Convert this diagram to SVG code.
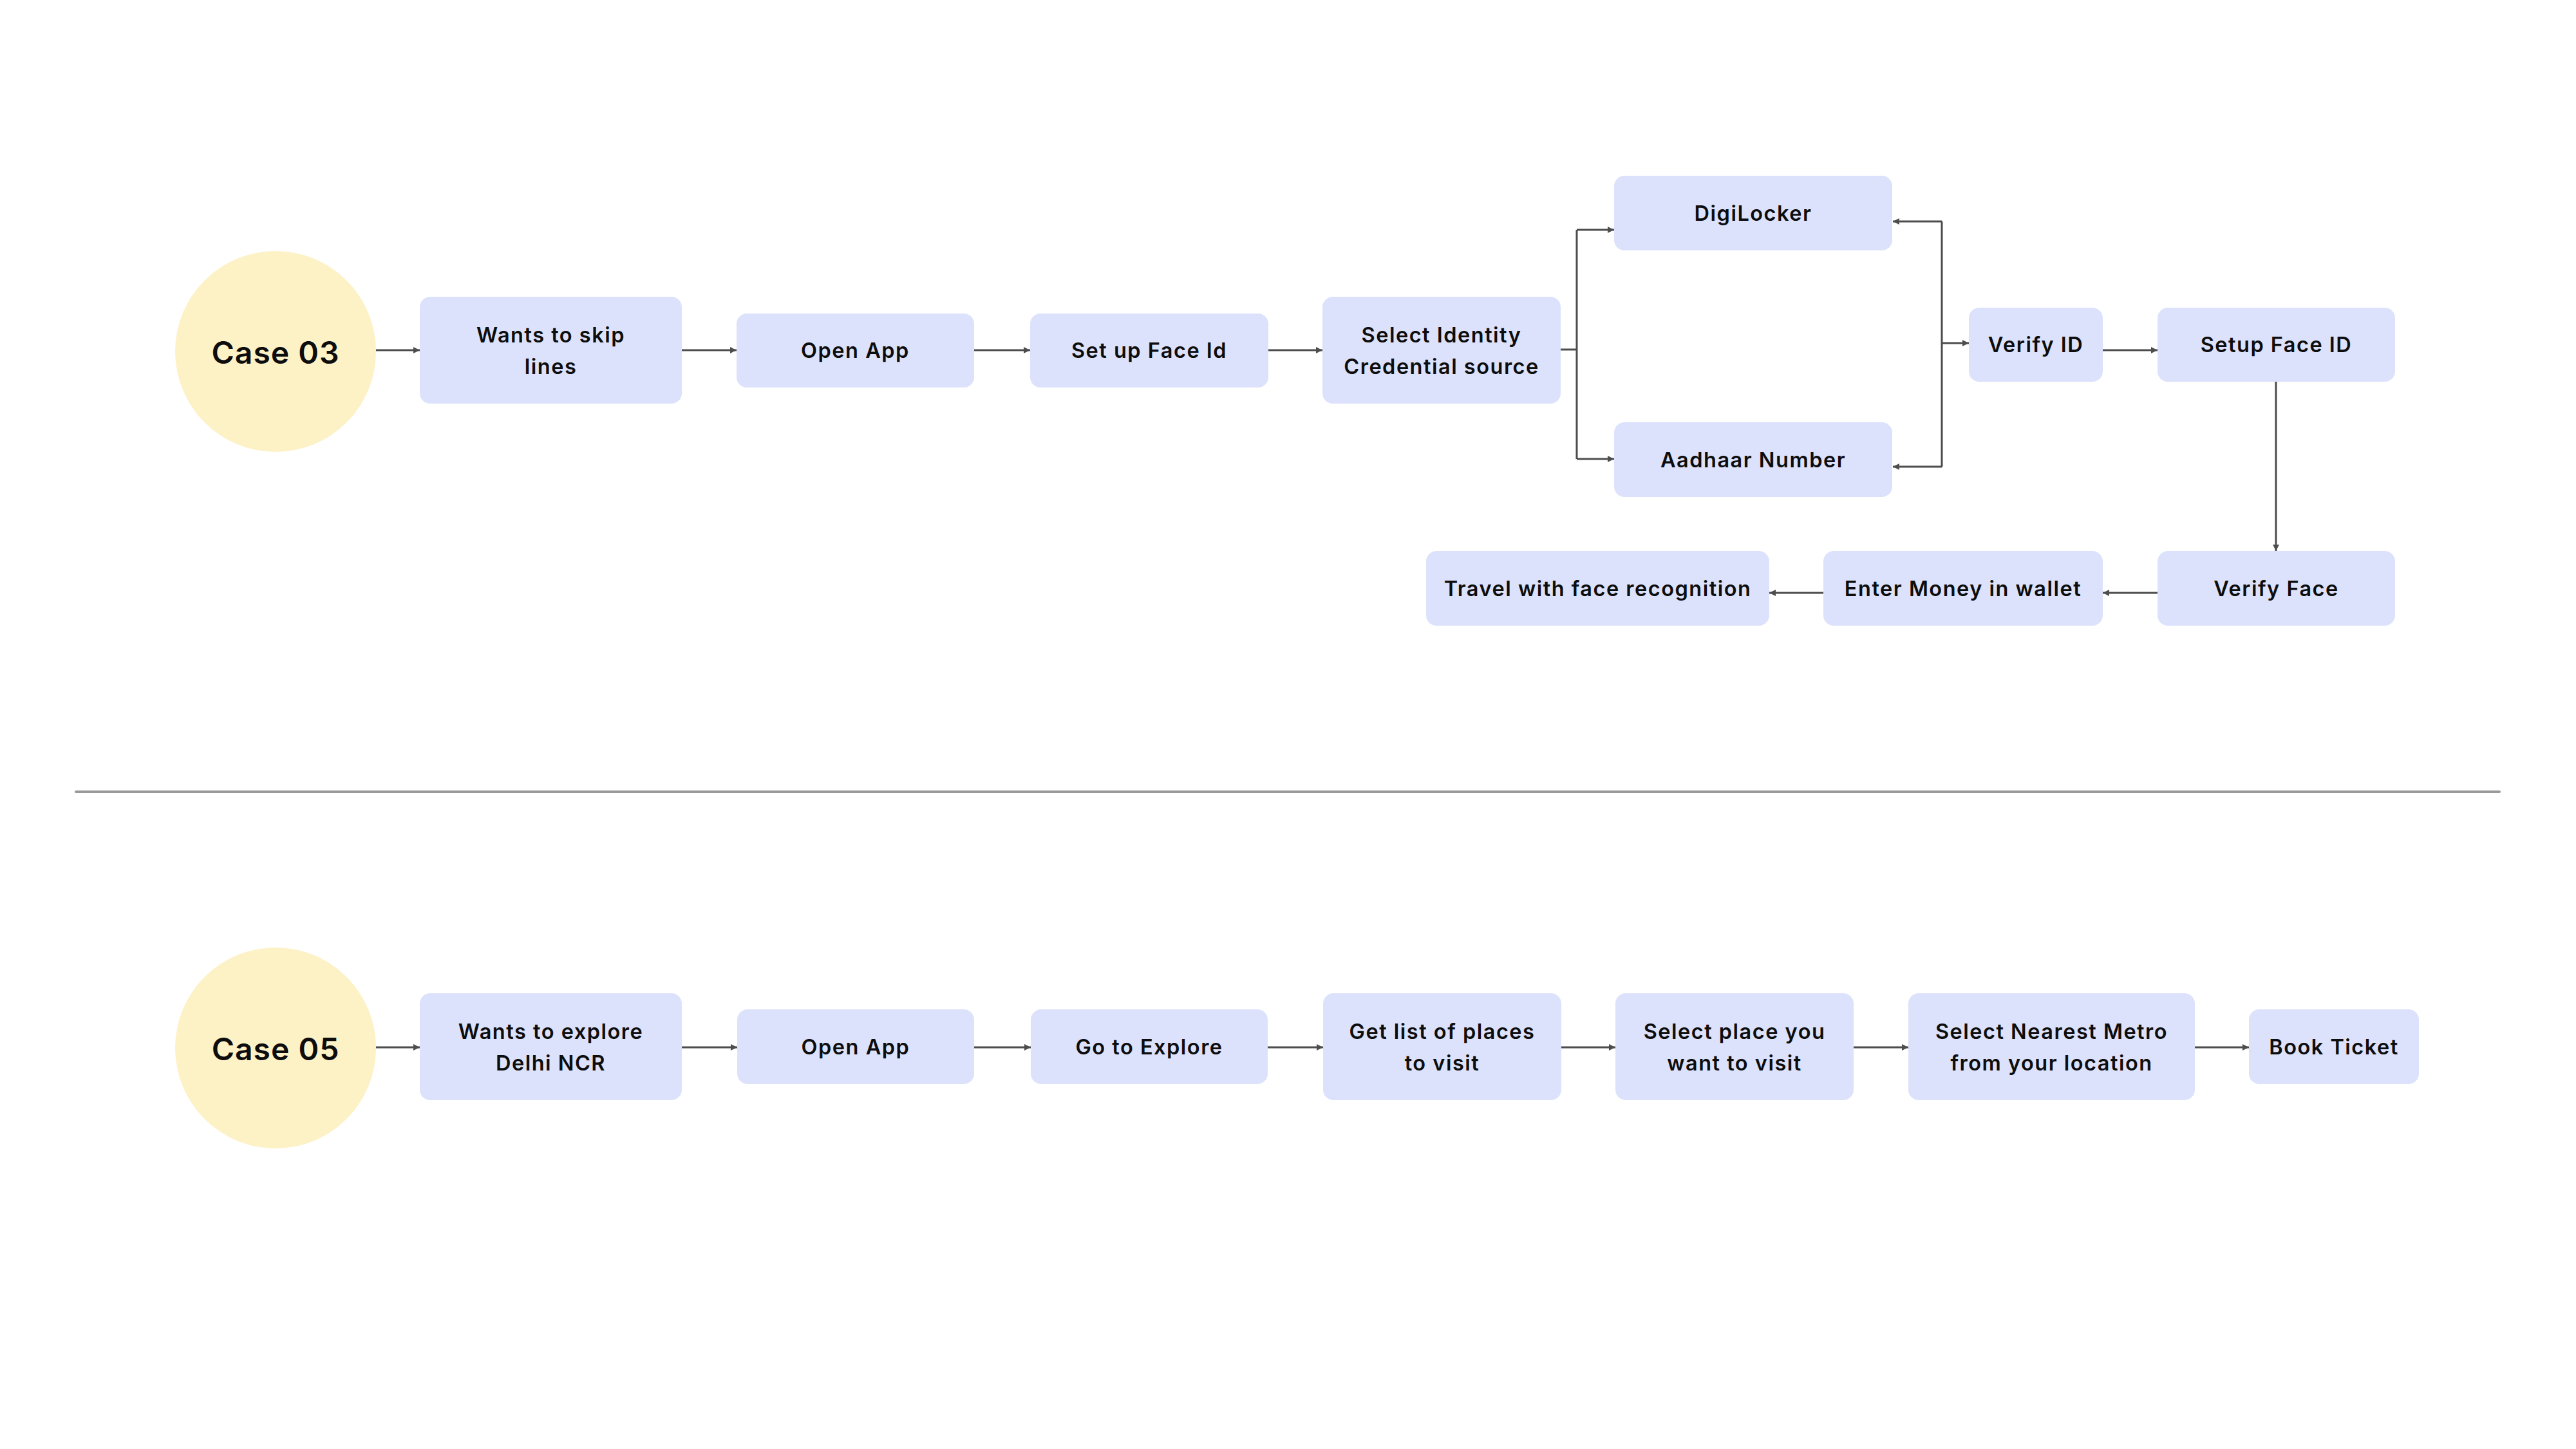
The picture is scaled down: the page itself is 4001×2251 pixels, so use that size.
<svg xmlns="http://www.w3.org/2000/svg" width="4001" height="2251" viewBox="0 0 4001 2251">
<defs>
<style>
.box{fill:#DCE2FC;}
.circ{fill:#FDF1C6;}
.t{font-family:Inter,"Liberation Sans",sans-serif;font-weight:600;font-size:32.5px;letter-spacing:1.5px;fill:#0d0d0d;text-anchor:middle;}
.c{font-family:Inter,"Liberation Sans",sans-serif;font-weight:600;font-size:48px;letter-spacing:1px;fill:#0d0d0d;text-anchor:middle;}
.ln{fill:none;stroke:#4d4d4d;stroke-width:3;}
.ar{fill:none;stroke:#4d4d4d;stroke-width:3;marker-end:url(#ah);}
</style>
<marker id="ah" viewBox="0 0 10 10" refX="10" refY="5" markerWidth="11" markerHeight="10" markerUnits="userSpaceOnUse" orient="auto">
<path d="M0,0 L10,5 L0,10 z" fill="#4d4d4d"/>
</marker>
</defs>
<rect width="4001" height="2251" fill="#ffffff"/>

<g id="connectors">
<path class="ar" d="M584,544 H652"/>
<path class="ar" d="M1059,544 H1144"/>
<path class="ar" d="M1513,544 H1600"/>
<path class="ar" d="M1970,544 H2054"/>
<path class="ln" d="M2424,543 H2449 M2449,357 V713"/>
<path class="ar" d="M2449,357 H2507"/>
<path class="ar" d="M2449,713 H2507"/>
<path class="ln" d="M3016,344 V725"/>
<path class="ar" d="M3016,344 H2940"/>
<path class="ar" d="M3016,725 H2940"/>
<path class="ar" d="M3016,533 H3058"/>
<path class="ar" d="M3266,544 H3351"/>
<path class="ar" d="M3535,593 V856"/>
<path class="ar" d="M3351,921 H3266"/>
<path class="ar" d="M2832,921 H2748"/>
<path class="ar" d="M584,1627 H652"/>
<path class="ar" d="M1059,1627 H1145"/>
<path class="ar" d="M1513,1627 H1601"/>
<path class="ar" d="M1969,1627 H2055"/>
<path class="ar" d="M2425,1627 H2509"/>
<path class="ar" d="M2879,1627 H2964"/>
<path class="ar" d="M3409,1627 H3493"/>
</g>

<g id="divider">
<line x1="118" y1="1230" x2="3882" y2="1230" stroke="#999999" stroke-width="4" stroke-linecap="round"/>
</g>

<g id="case03">
<circle class="circ" cx="428" cy="546" r="156"/>
<text class="c" x="428" y="565">Case 03</text>
</g>
<g id="n_wants_skip">
<rect class="box" x="652" y="461" width="407" height="166" rx="16"/>
<text class="t" x="855.5" y="532">Wants to skip</text>
<text class="t" x="855.5" y="581">lines</text>
</g>
<g id="n_open1">
<rect class="box" x="1144" y="487" width="369" height="115" rx="16"/>
<text class="t" x="1328.5" y="556">Open App</text>
</g>
<g id="n_faceid">
<rect class="box" x="1600" y="487" width="370" height="115" rx="16"/>
<text class="t" x="1785" y="556">Set up Face Id</text>
</g>
<g id="n_select_id">
<rect class="box" x="2054" y="461" width="370" height="166" rx="16"/>
<text class="t" x="2239" y="532">Select Identity</text>
<text class="t" x="2239" y="581">Credential source</text>
</g>
<g id="n_digi">
<rect class="box" x="2507" y="273" width="432" height="116" rx="16"/>
<text class="t" x="2723" y="343">DigiLocker</text>
</g>
<g id="n_aadhaar">
<rect class="box" x="2507" y="656" width="432" height="116" rx="16"/>
<text class="t" x="2723" y="726">Aadhaar Number</text>
</g>
<g id="n_verifyid">
<rect class="box" x="3058" y="478" width="208" height="115" rx="16"/>
<text class="t" x="3162" y="547">Verify ID</text>
</g>
<g id="n_setupface">
<rect class="box" x="3351" y="478" width="369" height="115" rx="16"/>
<text class="t" x="3535.5" y="547">Setup Face ID</text>
</g>
<g id="n_verifyface">
<rect class="box" x="3351" y="856" width="369" height="116" rx="16"/>
<text class="t" x="3535.5" y="926">Verify Face</text>
</g>
<g id="n_money">
<rect class="box" x="2832" y="856" width="434" height="116" rx="16"/>
<text class="t" x="3049" y="926">Enter Money in wallet</text>
</g>
<g id="n_travel">
<rect class="box" x="2215" y="856" width="533" height="116" rx="16"/>
<text class="t" x="2481.5" y="926">Travel with face recognition</text>
</g>

<g id="case05">
<circle class="circ" cx="428" cy="1628" r="156"/>
<text class="c" x="428" y="1647">Case 05</text>
</g>
<g id="n_wants_explore">
<rect class="box" x="652" y="1543" width="407" height="166" rx="16"/>
<text class="t" x="855.5" y="1614">Wants to explore</text>
<text class="t" x="855.5" y="1663">Delhi NCR</text>
</g>
<g id="n_open2">
<rect class="box" x="1145" y="1568" width="368" height="116" rx="16"/>
<text class="t" x="1329" y="1638">Open App</text>
</g>
<g id="n_explore">
<rect class="box" x="1601" y="1568" width="368" height="116" rx="16"/>
<text class="t" x="1785" y="1638">Go to Explore</text>
</g>
<g id="n_getlist">
<rect class="box" x="2055" y="1543" width="370" height="166" rx="16"/>
<text class="t" x="2240" y="1614">Get list of places</text>
<text class="t" x="2240" y="1663">to visit</text>
</g>
<g id="n_selplace">
<rect class="box" x="2509" y="1543" width="370" height="166" rx="16"/>
<text class="t" x="2694" y="1614">Select place you</text>
<text class="t" x="2694" y="1663">want to visit</text>
</g>
<g id="n_nearest">
<rect class="box" x="2964" y="1543" width="445" height="166" rx="16"/>
<text class="t" x="3186.5" y="1614">Select Nearest Metro</text>
<text class="t" x="3186.5" y="1663">from your location</text>
</g>
<g id="n_book">
<rect class="box" x="3493" y="1568" width="264" height="116" rx="16"/>
<text class="t" x="3625" y="1638">Book Ticket</text>
</g>
</svg>
